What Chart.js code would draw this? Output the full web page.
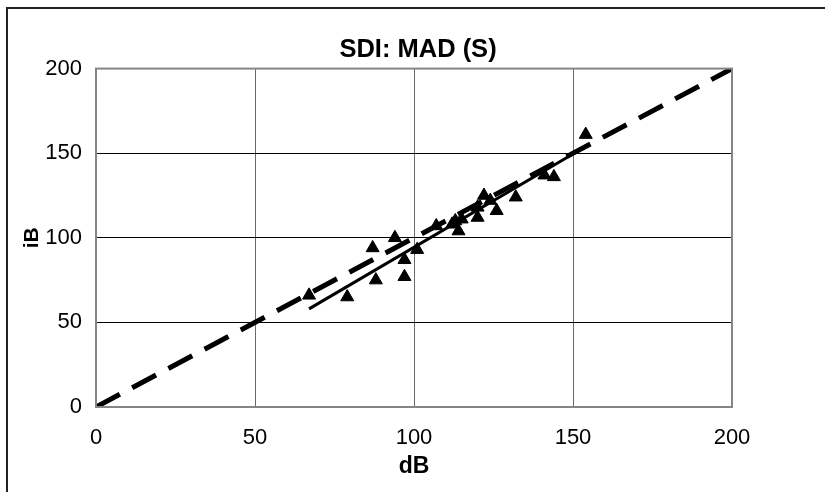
<!DOCTYPE html>
<html>
<head>
<meta charset="utf-8">
<script src="https://cdn.jsdelivr.net/npm/chart.js@4/dist/chart.umd.min.js"></script>
<style>
    html, body { margin: 0; padding: 0; background: #fff; }
    #wrap { position: relative; width: 825px; height: 492px; }
    #frame {
        position: absolute; left: 6px; top: 7px; right: 0; bottom: 0;
        border-left: 2px solid #222; border-top: 2px solid #222;
        pointer-events: none;
    }
</style>
</head>
<body>
<div id="wrap">
    <canvas id="sdiChart" width="825" height="492"></canvas>
    <div id="frame"></div>
</div>
<script>
// --- DATA ---
const pointsX = [67, 79, 87, 88, 94, 97, 97, 101, 107, 112, 113, 114, 115, 120, 120, 122, 124, 126, 132, 141, 144, 154];
const pointsY = [66, 65, 94, 75, 100, 87, 77, 93, 107, 108, 110, 104, 111, 112, 118, 125, 122, 116, 124, 137, 136, 161];
const trendX = [67, 154];
const trendY = [58, 154];
const identityX = [0, 200];
const identityY = [0, 200];
const tickValues = [0, 50, 100, 150, 200];

const toXY = (xs, ys) => xs.map((x, i) => ({ x: x, y: ys[i] }));

// plot frame drawn in gray around the chart area
const plotFrame = {
    id: 'plotFrame',
    afterDatasetsDraw(chart) {
        const a = chart.chartArea;
        const ctx = chart.ctx;
        ctx.save();
        ctx.strokeStyle = '#858585';
        ctx.lineWidth = 2;
        ctx.strokeRect(a.left, a.top, a.right - a.left, a.bottom - a.top);
        ctx.restore();
    }
};

Chart.defaults.font.family = '"Liberation Sans", Arial, sans-serif';
Chart.defaults.color = '#000';

const ctx = document.getElementById('sdiChart').getContext('2d');
new Chart(ctx, {
    type: 'scatter',
    data: {
        datasets: [
            {
                label: 'identity',
                type: 'line',
                data: toXY(identityX, identityY),
                borderColor: '#000',
                borderWidth: 5,
                borderDash: [27, 14],
                pointRadius: 0,
                fill: false,
                order: 1
            },
            {
                label: 'trend',
                type: 'line',
                data: toXY(trendX, trendY),
                borderColor: '#000',
                borderWidth: 3,
                pointRadius: 0,
                fill: false,
                order: 2
            },
            {
                label: 'MAD',
                data: toXY(pointsX, pointsY),
                pointStyle: 'triangle',
                pointRadius: 7.5,
                backgroundColor: '#000',
                borderColor: '#000',
                borderWidth: 1,
                order: 3
            }
        ]
    },
    options: {
        responsive: false,
        animation: false,
        layout: { padding: { left: 11, right: 0, top: 0, bottom: 0 } },
        plugins: {
            legend: { display: false },
            tooltip: { enabled: false },
            title: {
                display: true,
                text: 'SDI: MAD (S)',
                font: { size: 25.5, weight: 'bold' },
                padding: { top: 35, bottom: 3 }
            }
        },
        scales: {
            x: {
                type: 'linear',
                min: 0,
                max: 200,
                afterBuildTicks: (s) => { s.ticks = tickValues.map(v => ({ value: v })); },
                afterFit: (s) => { s.height = 85; },
                ticks: { font: { size: 22 }, padding: 18 },
                grid: { color: '#6a6a6a', lineWidth: 1, drawTicks: false },
                border: { display: false },
                title: {
                    display: true,
                    text: 'dB',
                    font: { size: 23, weight: 'bold' },
                    padding: { top: 0, bottom: 12 }
                }
            },
            y: {
                type: 'linear',
                min: 0,
                max: 200,
                afterBuildTicks: (s) => { s.ticks = tickValues.map(v => ({ value: v })); },
                afterFit: (s) => { s.width = 85; },
                ticks: { font: { size: 22 }, padding: 14 },
                grid: { color: '#000', lineWidth: 1, drawTicks: false },
                border: { display: false },
                title: {
                    display: true,
                    text: 'iB',
                    font: { size: 21, weight: 'bold' },
                    padding: { top: 9, bottom: 0 }
                }
            },
            yRight: {
                type: 'linear',
                position: 'right',
                min: 0,
                max: 200,
                afterFit: (s) => { s.width = 93; },
                ticks: { display: false },
                grid: { display: false },
                border: { display: false }
            }
        }
    },
    plugins: [plotFrame]
});
</script>
</body>
</html>
